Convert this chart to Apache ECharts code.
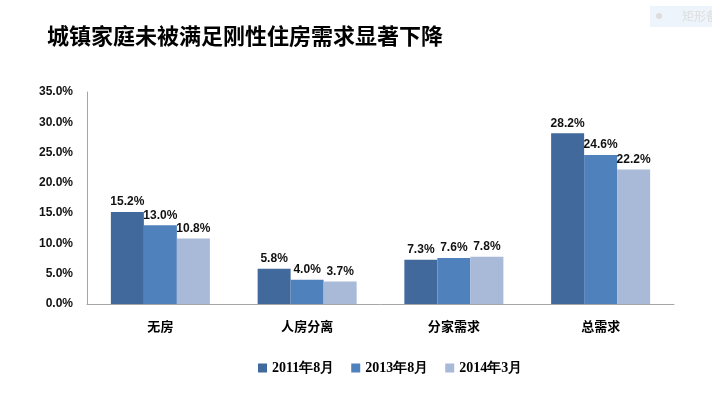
<!DOCTYPE html>
<html>
<head>
<meta charset="utf-8">
<script src="https://cdn.jsdelivr.net/npm/echarts@6/dist/echarts.min.js"></script>
<style>
  html, body { margin: 0; padding: 0; background: #fff; }
  #chart { width: 712px; height: 397px; }
</style>
</head>
<body>
<div id="chart"></div>
<script>
const categories = ["无房", "人房分离", "分家需求", "总需求"];
const seriesNames = ["2011年8月", "2013年8月", "2014年3月"];
const values2011 = [15.2, 5.8, 7.3, 28.2];
const values2013 = [13.0, 4.0, 7.6, 24.6];
const values2014 = [10.8, 3.7, 7.8, 22.2];
const colors = ["#41699B", "#4F81BD", "#A9B9D8"];

const chart = echarts.init(document.getElementById("chart"));

const labelStyle = {
  show: true,
  position: "top",
  distance: 4,
  color: "#111",
  fontSize: 12,
  fontWeight: "bold",
  fontFamily: "Liberation Sans",
  formatter: (p) => p.value.toFixed(1) + "%",
};

const makeSeries = (name, data, i) => ({
  name,
  type: "bar",
  data,
  barWidth: 33,
  barGap: "0%",
  itemStyle: { color: colors[i] },
  label: labelStyle,
});

chart.setOption({
  animation: false,
  title: {
    text: "城镇家庭未被满足刚性住房需求显著下降",
    left: 42,
    top: 20,
    textStyle: {
      fontFamily: "Noto Sans CJK SC",
      fontSize: 22,
      fontWeight: "bold",
      color: "#000",
    },
  },
  legend: {
    data: seriesNames,
    bottom: 17,
    left: 253,
    itemWidth: 9,
    itemHeight: 9,
    itemGap: 17,
    icon: "rect",
    textStyle: {
      fontFamily: "Liberation Serif",
      fontSize: 14,
      fontWeight: "bold",
      color: "#000",
    },
  },
  grid: { left: 87, right: 38, top: 92, bottom: 93 },
  xAxis: {
    type: "category",
    data: categories,
    axisTick: { show: false },
    axisLine: { lineStyle: { color: "#A6A6A6", width: 1 } },
    axisLabel: {
      margin: 16,
      color: "#000",
      fontSize: 13,
      fontWeight: "bold",
      fontFamily: "Noto Sans CJK SC",
    },
  },
  yAxis: {
    type: "value",
    min: 0,
    max: 35,
    interval: 5,
    axisLine: { show: true, lineStyle: { color: "#A6A6A6", width: 1 } },
    axisTick: { show: false },
    splitLine: { show: false },
    axisLabel: {
      margin: 14,
      color: "#111",
      fontSize: 12,
      fontWeight: "bold",
      fontFamily: "Liberation Sans",
      formatter: (v) => v.toFixed(1) + "%",
    },
  },
  series: [
    makeSeries(seriesNames[0], values2011, 0),
    makeSeries(seriesNames[1], values2013, 1),
    makeSeries(seriesNames[2], values2014, 2),
  ],
  graphic: [
    {
      type: "rect",
      left: 650,
      top: 6,
      shape: { width: 62, height: 21 },
      style: { fill: "#EEF4FB" },
    },
    {
      type: "circle",
      left: 656,
      top: 13,
      shape: { r: 3 },
      style: { fill: "#DDDDDD" },
    },
    {
      type: "text",
      left: 682,
      top: 10,
      style: { text: "矩形备", fill: "#DDDDDD", fontSize: 12, fontFamily: "Noto Sans CJK SC" },
    },
  ],
});
</script>
</body>
</html>
